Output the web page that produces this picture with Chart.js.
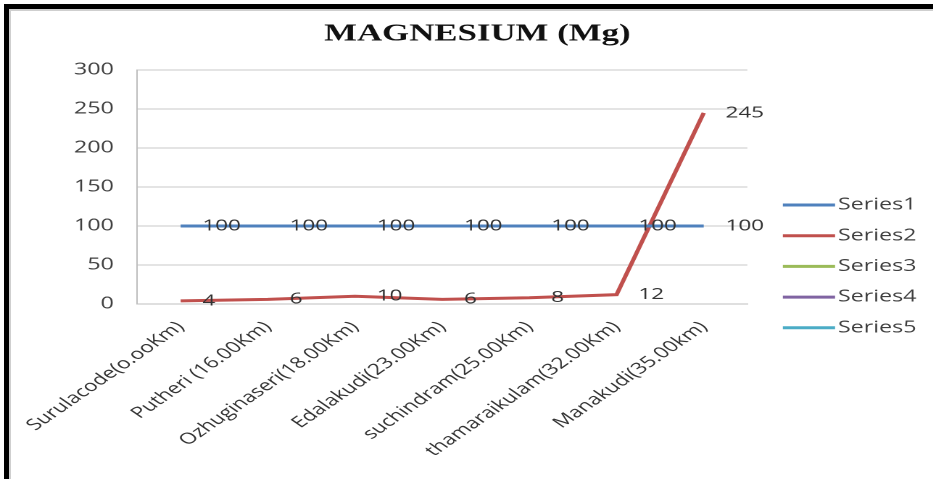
<!DOCTYPE html>
<html>
<head>
<meta charset="utf-8">
<script src="https://cdn.jsdelivr.net/npm/chart.js@4/dist/chart.umd.min.js"></script>
<style>
  html, body { margin: 0; padding: 0; background: #fff; width: 933px; height: 479px; overflow: hidden; }
  #frame { position: absolute; left: 4px; top: 4px; width: 940px; height: 490px;
           border-top: 5px solid #000; border-left: 5px solid #000; }
  #inner { position: absolute; left: 0; top: 0; right: 0; bottom: 0;
           border-top: 2px solid #cfcfcf; border-left: 2px solid #cfcfcf; }
  /* the chart is laid out narrow and widened horizontally */
  #wrap { position: absolute; left: 0; top: 0; width: 643.45px; height: 479px;
          transform: scaleX(1.45); transform-origin: 0 0; }
</style>
</head>
<body>
<div id="frame"><div id="inner"></div></div>
<div id="wrap"><canvas id="c"></canvas></div>
<script>
// Sampling sites along the route (distance from source)
const categories = [
  'Surulacode(o.ooKm)',
  'Putheri (16.00Km)',
  'Ozhuginaseri(18.00Km)',
  'Edalakudi(23.00Km)',
  'suchindram(25.00Km)',
  'thamaraikulam(32.00Km)',
  'Manakudi(35.00km)'
];
const seriesNames = ['Series1', 'Series2', 'Series3', 'Series4', 'Series5'];
const series1 = [100, 100, 100, 100, 100, 100, 100];
const series2 = [4, 6, 10, 6, 8, 12, 245];
const series3 = [];
const series4 = [];
const series5 = [];
const yTickValues = [0, 50, 100, 150, 200, 250, 300];

const seriesColors = ['#4F81BD', '#C0504D', '#9BBB59', '#8064A2', '#4BACC6'];
const seriesData = [series1, series2, series3, series4, series5];

const FONT = '"Open Sans", "DejaVu Sans", sans-serif';

// value written just right of every point
const valueLabels = {
  id: 'valueLabels',
  afterDatasetsDraw(chart) {
    const ctx = chart.ctx;
    ctx.save();
    ctx.font = '15.5px ' + FONT;
    ctx.fillStyle = '#333';
    ctx.textAlign = 'left';
    ctx.textBaseline = 'middle';
    chart.data.datasets.forEach((ds, i) => {
      const meta = chart.getDatasetMeta(i);
      if (meta.hidden) return;
      meta.data.forEach((pt, j) => {
        const v = ds.data[j];
        if (v === null || v === undefined) return;
        ctx.fillText(String(v), pt.x + 15, pt.y);
      });
    });
    ctx.restore();
  }
};

// legend column to the right of the plot
const sideLegend = {
  id: 'sideLegend',
  afterDraw(chart) {
    const { ctx, chartArea } = chart;
    ctx.save();
    ctx.font = '16px ' + FONT;
    ctx.textAlign = 'left';
    ctx.textBaseline = 'middle';
    chart.data.datasets.forEach((ds, i) => {
      const y = chartArea.top + 135 + i * 30.7;
      const x0 = chartArea.right + 24.5;
      ctx.strokeStyle = ds.borderColor;
      ctx.lineWidth = 3;
      ctx.beginPath();
      ctx.moveTo(x0, y);
      ctx.lineTo(x0 + 36, y);
      ctx.stroke();
      ctx.fillStyle = '#404040';
      ctx.fillText(ds.label, x0 + 38, y);
    });
    ctx.restore();
  }
};

new Chart(document.getElementById('c'), {
  type: 'line',
  data: {
    labels: categories,
    datasets: seriesNames.map((name, i) => ({
      label: name,
      data: seriesData[i],
      borderColor: seriesColors[i],
      backgroundColor: seriesColors[i],
      borderWidth: 3,
      pointRadius: 0,
      tension: 0,
      fill: false
    }))
  },
  options: {
    responsive: true,
    maintainAspectRatio: false,
    animation: false,
    devicePixelRatio: 2,
    layout: { padding: { left: 50, right: 35, top: 10, bottom: 0 } },
    plugins: {
      legend: { display: false },
      tooltip: { enabled: false },
      title: {
        display: true,
        text: 'MAGNESIUM (Mg)',
        color: '#111',
        font: { family: '"Liberation Serif", "Times New Roman", serif', size: 24, weight: 'bold' },
        padding: { top: 10.1, bottom: 21.1 }
      }
    },
    scales: {
      x: {
        offset: true,
        grid: { display: false },
        border: { display: true, color: '#bfbfbf' },
        ticks: {
          autoSkip: false,
          minRotation: 45,
          maxRotation: 45,
          padding: 6,
          color: '#333',
          font: { family: FONT, size: 15.5 }
        },
        afterFit: s => { s.height = 175; }
      },
      y: {
        min: 0,
        max: 300,
        grid: { color: '#c8c8c8', drawTicks: false },
        border: { color: '#bfbfbf' },
        ticks: { padding: 16, color: '#404040', font: { family: FONT, size: 16 } },
        afterBuildTicks: s => { s.ticks = yTickValues.map(v => ({ value: v })); },
        afterFit: s => { s.width = 44.5; }
      },
      y2: {
        position: 'right',
        grid: { display: false },
        border: { display: false },
        ticks: { display: false },
        afterFit: s => { s.width = 93; }
      }
    }
  },
  plugins: [valueLabels, sideLegend]
});
</script>
</body>
</html>
